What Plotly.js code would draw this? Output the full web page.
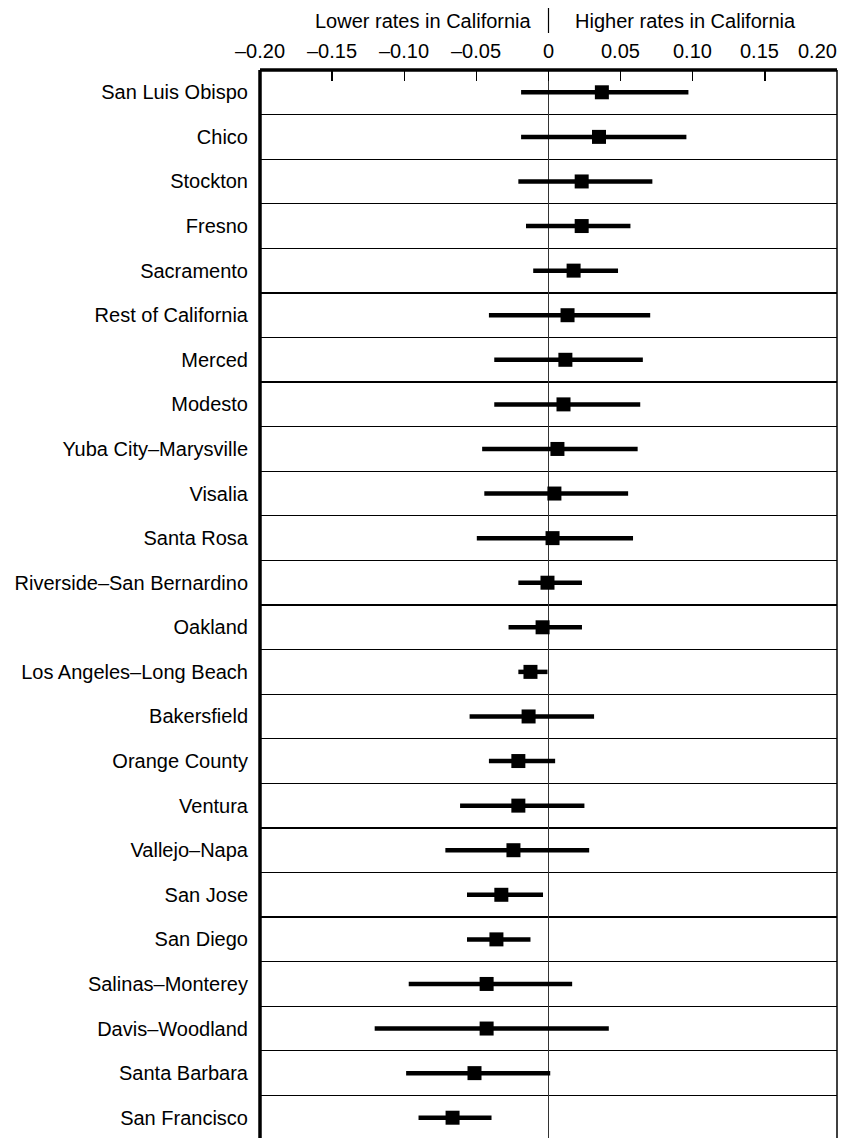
<!DOCTYPE html>
<html>
<head>
<meta charset="utf-8">
<script src="https://cdn.plot.ly/plotly-3.0.1.min.js"></script>
<style>
html,body{margin:0;padding:0;background:#fff;overflow:hidden;}
#chart{width:843px;height:1140px;}
</style>
</head>
<body>
<div id="chart"></div>
<script>
var regions = ["San Luis Obispo","Chico","Stockton","Fresno","Sacramento","Rest of California","Merced","Modesto","Yuba City–Marysville","Visalia","Santa Rosa","Riverside–San Bernardino","Oakland","Los Angeles–Long Beach","Bakersfield","Orange County","Ventura","Vallejo–Napa","San Jose","San Diego","Salinas–Monterey","Davis–Woodland","Santa Barbara","San Francisco"];
var estimate = [0.037,0.035,0.023,0.023,0.0174,0.0132,0.0117,0.0104,0.0062,0.0041,0.0028,-0.0007,-0.0041,-0.0125,-0.0138,-0.0209,-0.0209,-0.0243,-0.0327,-0.0361,-0.0429,-0.0429,-0.0513,-0.0665];
var lower = [-0.019,-0.019,-0.0209,-0.0156,-0.0106,-0.0413,-0.0376,-0.0376,-0.046,-0.0445,-0.0497,-0.0209,-0.0277,-0.0209,-0.0547,-0.0413,-0.0613,-0.0715,-0.0565,-0.0565,-0.0969,-0.1205,-0.0987,-0.0901];
var upper = [0.097,0.0956,0.072,0.0568,0.0482,0.0705,0.0654,0.0636,0.0618,0.0552,0.0586,0.0232,0.0232,-0.0007,0.0316,0.0046,0.0249,0.0282,-0.0038,-0.0125,0.0164,0.0418,0.0012,-0.0395];
var tickVals = [-0.20,-0.15,-0.10,-0.05,0,0.05,0.10,0.15,0.20];
var tickText = ["–0.20","–0.15","–0.10","–0.05","0","0.05","0.10","0.15","0.20"];
var headerLeft = "Lower rates in California";
var headerRight = "Higher rates in California";

var FONT = "Liberation Sans, Arial, Helvetica, sans-serif";

var plus = estimate.map(function(v,i){return upper[i]-v;});
var minus = estimate.map(function(v,i){return v-lower[i];});

var trace = {
  type:"scatter", mode:"markers",
  x: estimate, y: regions,
  marker:{symbol:"square", size:14, color:"#000"},
  error_x:{type:"data", symmetric:false, array:plus, arrayminus:minus, thickness:4.5, width:0, color:"#000"},
  hoverinfo:"skip", showlegend:false, cliponaxis:false
};

var annotations = tickVals.map(function(v,i){
  var a = {x:v, xref:"x", y:1, yref:"paper", yanchor:"middle", yshift:19,
    text:tickText[i], showarrow:false, font:{family:FONT, size:20, color:"#000"}, xanchor:"center"};
  if (i === tickVals.length-1) { a.xanchor = "right"; a.xshift = 2; }
  if (i === tickVals.length-2) { a.xshift = -5; }
  return a;
});
annotations.push({x:0, xref:"x", y:1, yref:"paper", yanchor:"middle", yshift:49, xanchor:"right", xshift:-15,
  text:headerLeft, showarrow:false, font:{family:FONT, size:20, color:"#000"}});
annotations.push({x:0, xref:"x", y:1, yref:"paper", yanchor:"middle", yshift:49, xanchor:"left", xshift:24,
  text:headerRight, showarrow:false, font:{family:FONT, size:20, color:"#000"}});

var layout = {
  width:843, height:1140,
  margin:{l:260, r:6, t:70, b:0},
  paper_bgcolor:"#fff", plot_bgcolor:"#fff",
  font:{family:FONT, size:20, color:"#000"},
  xaxis:{range:[-0.2,0.2], side:"top", tickvals:tickVals, showticklabels:false,
    ticks:"inside", ticklen:11, tickwidth:1.3, tickcolor:"#000",
    showgrid:false, zeroline:true, zerolinecolor:"#333", zerolinewidth:1.5,
    showline:false, fixedrange:true},
  yaxis:{type:"category", categoryorder:"array", categoryarray:regions,
    range:[regions.length-0.5,-0.5], tickson:"boundaries", ticks:"",
    showgrid:true, gridcolor:"#000", gridwidth:1.3,
    showline:false, ticklabelstandoff:11,
    tickfont:{family:FONT, size:20, color:"#000"}, fixedrange:true},
  shapes:[
    {type:"line", xref:"paper", yref:"paper", x0:1, x1:1, y0:0, y1:1, line:{color:"#000", width:1.5}},
    {type:"line", xref:"paper", yref:"paper", x0:0, x1:0, y0:0, y1:1, line:{color:"#000", width:3.5}},
    {type:"line", xref:"paper", yref:"paper", x0:0, x1:1, y0:1, y1:1, line:{color:"#000", width:3.5}},
    {type:"line", xref:"x", yref:"paper", x0:0, x1:0, ysizemode:"pixel", yanchor:1, y0:37, y1:62, line:{color:"#000", width:1.2}}
  ],
  annotations:annotations
};

Plotly.newPlot("chart",[trace],layout,{displayModeBar:false, staticPlot:true});
</script>
</body>
</html>
